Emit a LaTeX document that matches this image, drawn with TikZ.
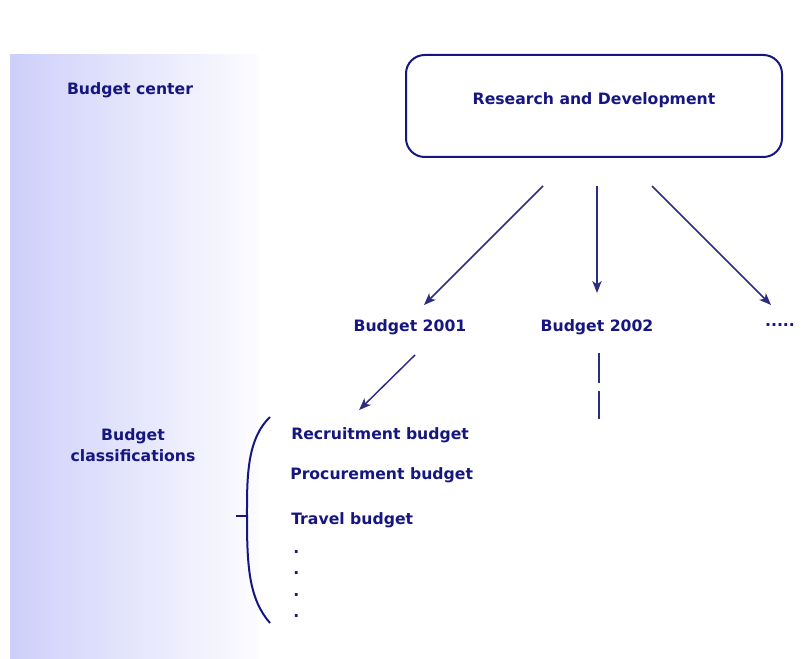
\documentclass[tikz,border=0pt]{standalone}
\usepackage{fontspec}
\setmainfont{DejaVu Sans}
\usetikzlibrary{calc,arrows.meta}
\definecolor{navy}{RGB}{22,22,128}
\definecolor{arrowblue}{RGB}{44,44,128}
\definecolor{panelleft}{RGB}{206,207,250}
\definecolor{panelright}{RGB}{252,252,255}

\begin{document}
\begin{tikzpicture}
        [
        x=0.75pt, y=-0.75pt,
        every node/.style={text=navy, font=\bfseries\fontsize{11.75}{15.75}\selectfont},
        unit/.style={rectangle, draw=navy, line width=1.5pt, rounded corners=14pt, minimum width=282pt, minimum height=76.5pt},
        item/.style={anchor=west, inner sep=0pt},
        arr/.style={-{Stealth[length=9pt, width=7pt, inset=2.5pt]}, line width=1.1pt, draw=arrowblue},
        brace/.style={line width=1.5pt, draw=navy}
        ]

        \useasboundingbox (0,0) rectangle (806,659);
        \shade[left color=panelleft, right color=panelright] (10,55) rectangle (258,659);

        \node (center) at (130,90) {Budget center};
        \node[align=center] (classes) at (133,445) {Budget\\classifications};

        \node[unit] (rd) at (594,106) {\raisebox{11pt}{Research and Development}};

        \node (b1) at (410,327) {Budget 2001};
        \node (b2) at (597,327) {Budget 2002};
        \node (bmore) at (780,325) {.....};

        \draw[arr] ($(rd.south)+(-51,28)$) -- ($(b1)+(14,-22)$);
        \draw[arr] ($(rd.south)+(3,28)$) -- ($(b2)+(0,-34)$);
        \draw[arr] ($(rd.south)+(58,28)$) -- ($(bmore)+(-9,-20)$);

        \node[item] (rec) at (291,435) {Recruitment budget};
        \node[item] (proc) at (290,475) {Procurement budget};
        \node[item] (travel) at (291,520) {Travel budget};
        \foreach \y [count=\i] in {550,571,593,614}
            \node[item] (dot\i) at (293,\y+2) {.};

        \draw[arr] ($(b1)+(5,28)$) -- ($(rec)+(-21,-25)$);
        \draw[line width=1.1pt, draw=arrowblue, dash pattern=on 22.5pt off 6pt] ($(b2)+(2,26)$) -- ($(b2)+(2,92)$);

        \draw[brace] (270,417) .. controls (246,440) and (247,480) .. (247,520)
                     .. controls (247,570) and (250,600) .. (270,623);
        \draw[brace] (236,516) -- (247,516);

    \end{tikzpicture}
\end{document}
